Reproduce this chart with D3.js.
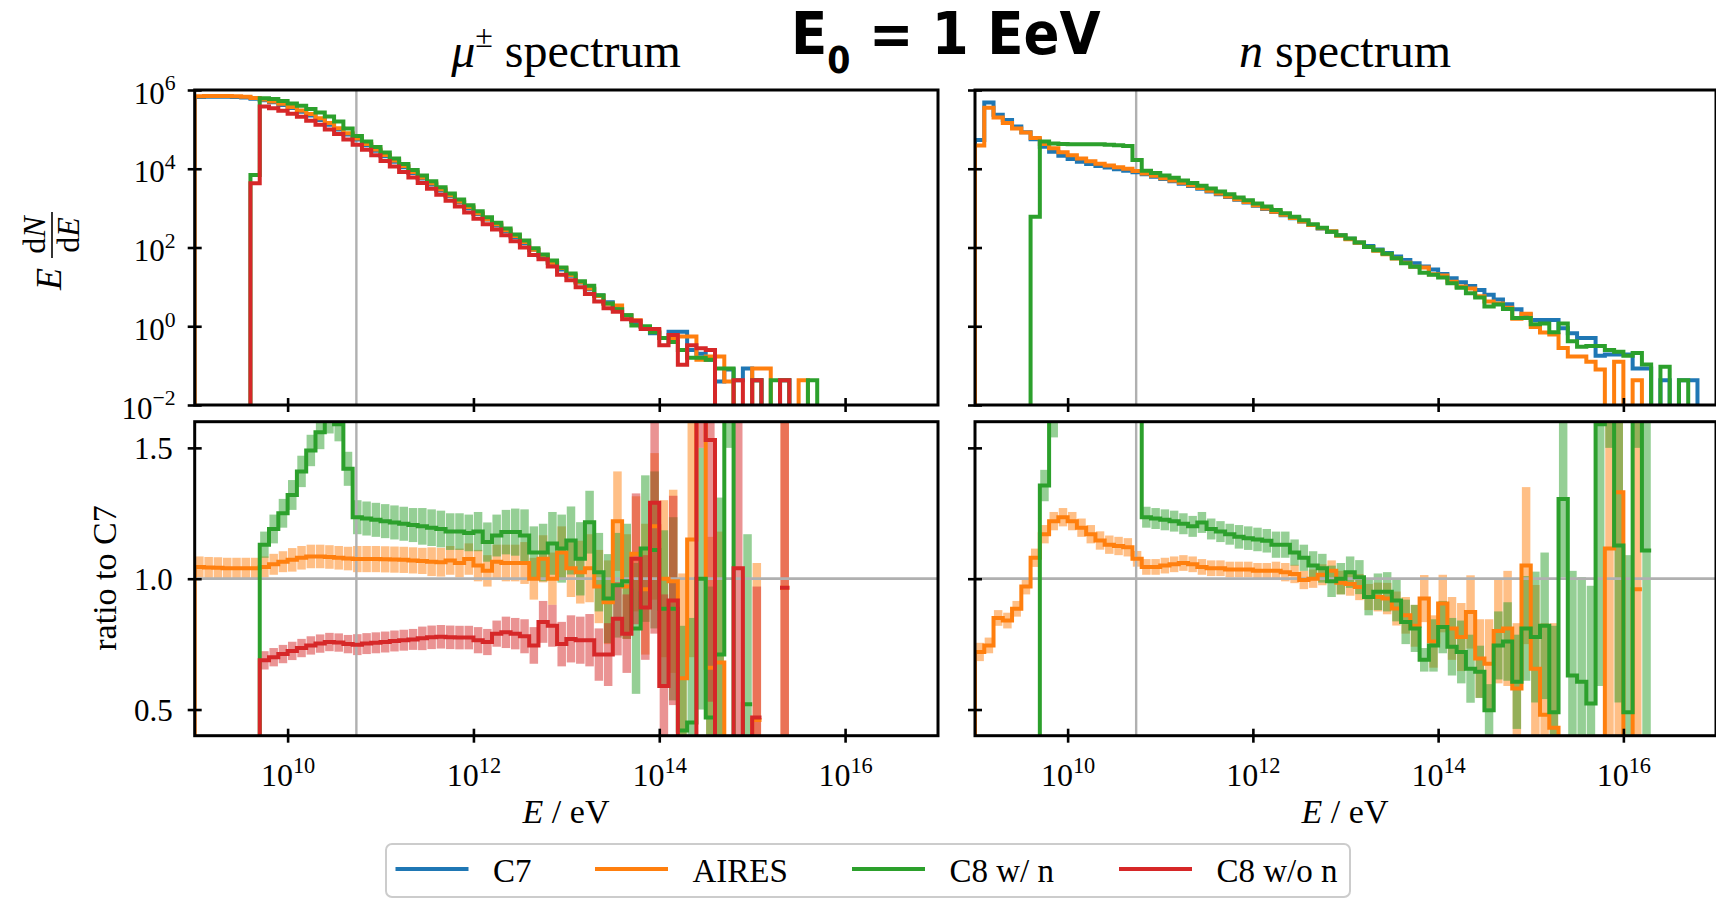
<!DOCTYPE html>
<html>
<head>
<meta charset="utf-8">
<script src="https://cdn.jsdelivr.net/npm/d3@7"></script>
<style>
  body { margin: 0; background: #fff; }
  svg text { font-family: "Liberation Serif", "Times New Roman", serif; fill: #000; }
</style>
</head>
<body>
<svg id="chart" width="1716" height="898"></svg>
<script>
// bin k covers 10^(9+0.1k) .. 10^(9.1+0.1k); values are log10(E dN/dE), null = empty bin
const muC7 = [5.82,5.83,5.83,5.83,5.82,5.81,5.78,
  5.74,5.69,5.62,5.54,5.45,5.35,5.24,5.12,5.00,4.87,
  4.74,4.60,4.46,4.32,4.18,4.04,
  3.89,3.75,3.60,3.45,3.30,3.15,3.00,2.85,2.71,2.56,2.41,2.26,2.11,
  1.94,1.78,1.61,1.44,1.28,1.11,0.94,0.78,0.61,0.44,0.28,0.11,
  -0.02,-0.18,-0.30,-0.14,-0.14,-0.60,-0.70,-0.85,-1.40,-1.10,-1.37,-1.07,-1.37,null,null,-1.37];
const muAIRES = [5.84,5.85,5.85,5.85,5.84,5.83,5.80,
  5.76,5.71,5.65,5.57,5.48,5.39,5.28,5.16,5.03,4.90,
  4.77,4.63,4.49,4.35,4.21,4.07,3.92,3.78,3.63,3.48,3.33,3.17,3.03,2.87,
  2.72,2.59,2.44,2.29,2.14,1.94,1.81,1.61,1.48,1.30,
  1.12,0.96,0.77,0.57,0.53,0.27,0.15,
  -0.02,-0.10,-0.30,-0.30,-0.26,-0.26,-0.85,-0.77,-0.77,-1.40,null,null,-1.07,-1.07,null,null,null,-1.37];
const muC8n = [null,null,null,null,null,null,3.84,
  5.79,5.77,5.72,5.66,5.60,5.52,5.43,5.33,5.20,5.02,
  4.83,4.69,4.55,4.41,4.26,4.12,3.97,3.83,3.68,3.53,3.37,3.22,3.07,2.92,
  2.77,2.63,2.48,2.33,2.18,1.98,1.82,1.67,1.49,1.34,
  1.14,1.03,0.79,0.58,0.43,0.28,0.02,
  0.00,-0.15,-0.30,-0.40,-0.60,-0.80,-0.80,-0.85,-1.07,-1.07,null,null,-1.37,null,-1.37,-1.37,null,null,-1.37];
const muC8wo = [null,null,null,null,null,null,3.63,
  5.58,5.535,5.47,5.40,5.32,5.22,5.12,5.00,4.88,4.745,
  4.61,4.48,4.34,4.20,4.06,3.92,3.78,3.64,3.49,3.34,3.19,3.04,2.89,2.73,
  2.59,2.46,2.31,2.16,2.00,1.81,1.70,1.52,1.31,1.17,
  0.99,0.82,0.63,0.46,0.37,0.18,0.14,
  -0.07,-0.07,-0.48,-0.22,-0.98,-0.48,-0.56,-0.60,null,null,-1.37,null,-1.37,null,null,-1.37];

// ratio to C7, mu panel, with half-width of the uncertainty band
const muRatioAIRES = [1.045,1.043,1.042,1.04,1.04,1.04,1.04,
  1.045,1.055,1.065,1.072,1.08,1.085,1.085,1.083,1.08,1.077,
  1.075,1.075,1.075,1.074,1.073,1.072,1.07,1.068,1.065,1.063,1.07,1.06,1.075,1.05,
  1.03,1.065,1.06,1.06,1.06,1.0,1.076,1.0,1.10,1.04,
  1.025,1.04,0.97,0.91,1.22,0.97,1.095,0.96,1.2,1.0,
  0.99,0.62,1.15,2.5,0.66,0.68,0,0,0,0.46,null,null,0.965];
const muErrAIRES = [0.04,0.04,0.04,0.04,0.04,0.04,0.04,
  0.04,0.04,0.04,0.045,0.045,0.045,0.045,0.045,0.045,0.045,
  0.05,0.05,0.05,0.05,0.05,0.05,0.05,0.05,0.055,0.055,0.055,0.055,0.06,0.06,
  0.06,0.065,0.07,0.07,0.08,0.08,0.09,0.1,0.1,0.11,
  0.12,0.13,0.14,0.16,0.19,0.2,0.22,0.25,0.28,0.3,
  0.35,0.4,0.45,0.6,0.5,0.5,0,0,0,0.6,null,null,1.5];
const muRatioC8n = [null,null,null,null,null,null,0.01,
  1.13,1.19,1.25,1.32,1.41,1.49,1.56,1.62,1.59,1.42,
  1.235,1.23,1.225,1.22,1.215,1.21,1.205,1.20,1.195,1.19,1.18,1.18,1.175,1.18,
  1.14,1.165,1.178,1.178,1.165,1.10,1.10,1.135,1.115,1.146,
  1.076,1.216,1.025,0.924,0.975,0.99,0.81,1.115,1.11,0.885,
  0.885,0.42,0.45,1.0,0.47,0.71,2.5,0,0.52];
const muErrC8n = [null,null,null,null,null,null,0,
  0.05,0.055,0.055,0.057,0.06,0.06,0.065,0.065,0.065,0.065,
  0.065,0.065,0.065,0.065,0.065,0.065,0.065,0.07,0.07,0.07,0.07,0.07,0.07,0.075,
  0.075,0.08,0.085,0.09,0.1,0.1,0.11,0.12,0.13,0.13,
  0.14,0.12,0.15,0.17,0.2,0.22,0.25,0.28,0.3,0.3,
  0.35,0.4,0.4,0.5,0.5,0.6,1.0,0,0.65];
const muRatioC8wo = [null,null,null,null,null,null,0.007,
  0.688,0.70,0.712,0.724,0.735,0.745,0.752,0.758,0.756,0.75,
  0.748,0.752,0.755,0.758,0.762,0.765,0.768,0.772,0.776,0.778,0.776,0.775,0.775,0.765,
  0.758,0.79,0.795,0.79,0.78,0.745,0.835,0.82,0.75,0.77,
  0.765,0.765,0.71,0.71,0.847,0.79,1.076,0.89,1.29,0.59,
  0.917,0,0,2.5,1.53,0,0,1.04,0,0.47,null,null,0.965];
const muErrC8wo = [null,null,null,null,null,null,0,
  0.035,0.035,0.035,0.035,0.035,0.035,0.035,0.035,0.035,0.035,
  0.04,0.04,0.04,0.04,0.04,0.04,0.04,0.045,0.045,0.045,0.045,0.045,0.045,0.05,
  0.05,0.05,0.06,0.06,0.065,0.07,0.08,0.08,0.085,0.09,
  0.09,0.1,0.1,0.12,0.14,0.15,0.25,0.2,0.5,0.35,
  0.4,0,0,1.0,1.0,0,0,1.0,0,0.5,null,null,1.5];

// neutron spectrum, log10(E dN/dE)
const nC7 = [4.73,5.68,5.37,5.24,5.07,4.93,4.75,4.56,4.43,4.33,4.25,4.18,4.12,4.07,4.03,3.99,3.95,
  3.91,3.86,3.80,3.74,3.68,3.62,3.56,3.49,3.42,3.35,3.28,3.21,3.14,3.06,2.98,2.90,2.82,2.74,2.66,2.57,2.48,2.40,2.31,2.22,
  2.13,2.04,1.95,1.86,1.77,1.68,1.60,1.52,1.44,1.33,1.22,1.12,1.02,0.92,0.80,0.68,0.56,0.43,0.30,0.16,0.16,0.16,
  -0.05,-0.18,-0.30,-0.30,-0.75,-0.72,-0.72,-0.72,-1.07,-1.07,null,-1.37,null,-1.37,-1.37];
const nAIRES = [4.59,5.55,5.30,5.16,5.02,4.92,4.78,4.63,4.52,4.42,4.34,4.26,4.19,4.13,4.08,4.04,4.00,
  3.94,3.88,3.82,3.76,3.70,3.645,3.58,3.51,3.44,3.37,3.295,3.225,3.155,3.07,2.99,2.91,2.83,2.75,2.66,2.57,2.49,2.41,2.30,2.21,
  2.12,2.01,1.92,1.83,1.72,1.61,1.51,1.49,1.32,1.29,1.13,1.01,0.96,0.76,0.63,0.58,0.47,0.19,0.32,-0.02,-0.16,-0.21,
  -0.55,-0.77,-0.77,-0.90,-1.10,null,-0.90,null,-1.37];
const nC8n = [null,null,null,null,null,null,2.78,
  4.69,4.64,4.63,4.62,4.62,4.62,4.62,4.61,4.60,4.58,4.22,
  3.95,3.89,3.83,3.77,3.70,3.64,3.57,3.50,3.42,3.35,3.27,3.20,3.12,3.04,2.95,2.87,2.78,2.69,2.59,2.50,2.40,2.31,2.23,
  2.13,2.01,1.93,1.84,1.73,1.60,1.51,1.36,1.31,1.24,1.09,0.98,0.84,0.73,0.50,0.55,0.44,0.21,0.21,0.05,0.07,-0.15,0.07,-0.38,-0.52,
  -0.50,-0.50,-0.60,-0.65,-0.75,-0.68,-0.97,null,-1.03,null,-1.37];

// ratio to C7, neutron panel
const nRatioAIRES = [0.72,0.745,0.85,0.84,0.885,0.97,1.08,1.17,1.22,1.235,1.22,1.195,1.17,1.146,1.13,1.125,1.12,
  1.076,1.045,1.045,1.05,1.055,1.06,1.055,1.045,1.04,1.04,1.035,1.035,1.035,1.03,
  1.03,1.03,1.025,1.018,0.995,1.0,1.015,1.03,0.985,0.98,0.968,
  0.93,0.93,0.924,0.886,0.86,0.82,0.924,0.76,0.905,0.81,0.777,0.873,0.695,0.675,0.80,0.81,0.58,1.05,0.656,0.48,0.43,
  0,0,0,0,0,1.115,1.33,0,0.96];
const nErrAIRES = [0.035,0.03,0.03,0.03,0.03,0.03,0.035,0.035,0.035,0.035,0.035,0.035,0.035,0.035,0.035,0.035,0.035,
  0.03,0.03,0.03,0.03,0.03,0.03,0.03,0.03,0.03,0.03,0.03,0.03,0.03,0.03,
  0.03,0.035,0.035,0.035,0.035,0.035,0.04,0.04,0.045,0.045,0.05,
  0.05,0.055,0.06,0.065,0.07,0.08,0.09,0.1,0.11,0.12,0.13,0.14,0.15,0.17,0.2,0.22,0.25,0.3,0.32,0.35,0.4,
  0,0,0,0,0,0.8,1.0,0,1.0];
const nRatioC8n = [null,null,null,null,null,null,0.012,1.356,1.62,2.0,2.2,2.4,2.6,2.8,3.0,3.2,3.5,2.0,
  1.235,1.23,1.225,1.22,1.21,1.20,1.215,1.19,1.18,1.17,1.16,1.155,1.15,
  1.145,1.13,1.13,1.10,1.08,1.05,1.04,0.99,1.0,1.025,1.006,
  0.93,0.95,0.95,0.917,0.835,0.81,0.69,0.745,0.815,0.74,0.72,0.656,0.644,0.497,0.745,0.76,0.606,0.81,0.777,0.82,0.49,1.305,0.63,0.606,0.523,1.59,2.5,1.127,0.49,2.5,1.108];
const nErrC8n = [null,null,null,null,null,null,0,0.06,0.08,0.1,0.1,0.1,0.1,0.1,0.1,0.1,0.1,0.1,
  0.04,0.04,0.04,0.04,0.04,0.04,0.04,0.04,0.04,0.04,0.045,0.045,0.045,
  0.045,0.05,0.05,0.05,0.05,0.055,0.055,0.06,0.06,0.06,0.065,
  0.07,0.07,0.075,0.08,0.085,0.09,0.045,0.1,0.1,0.11,0.12,0.13,0.1,0.1,0.13,0.15,0.18,0.2,0.25,0.28,0.33,0.3,0.4,0.4,0.45,1.0,1.0,0.6,0.6,1.0,0.8];

const seriesNames = ["C7", "AIRES", "C8 w/ n", "C8 w/o n"];
const colors = ["#1f77b4", "#ff7f0e", "#2ca02c", "#d62728"];
const xTickValues = [1e10, 1e12, 1e14, 1e16];
const specTickValues = [1e-2, 1, 1e2, 1e4, 1e6];
const ratioTickValues = [0.5, 1.0, 1.5];
const markerE = Math.pow(10, 10.74);

const svg = d3.select("#chart");
const edge = k => Math.pow(10, 9 + 0.1 * k);
const LW = 4;

// panel geometry
const cols = [{ x0: 194.7, x1: 938 }, { x0: 975, x1: 1716 }];
const topRow = { y0: 90, y1: 405 }, botRow = { y0: 421.7, y1: 735.7 };

const xL = d3.scaleLog().domain([1e9, 1e17]).range([cols[0].x0, cols[0].x1]);
const xR = d3.scaleLog().domain([1e9, 1e17]).range([cols[1].x0, cols[1].x1]);
const ySpec = d3.scaleLog().domain([1e-2, 1e6]).range([topRow.y1, topRow.y0]);
const yRatio = d3.scaleLinear().domain([0.4, 1.6]).range([botRow.y1, botRow.y0]);

const defs = svg.append("defs");
function clipFor(id, c, r) {
  defs.append("clipPath").attr("id", id).append("rect")
    .attr("x", c.x0).attr("y", r.y0).attr("width", c.x1 - c.x0).attr("height", r.y1 - r.y0);
  return svg.append("g").attr("clip-path", `url(#${id})`);
}

function drawSpectrum(g, x, vals, color) {
  const below = ySpec.range()[0] + 40;
  const pts = [[x(edge(0)), below]];
  vals.forEach((v, k) => {
    const py = v === null ? below : ySpec(Math.pow(10, v));
    pts.push([x(edge(k)), py], [x(edge(k + 1)), py]);
  });
  pts.push([x(edge(vals.length)), below]);
  g.append("path").attr("d", d3.line()(pts))
    .attr("fill", "none").attr("stroke", color).attr("stroke-width", LW);
}

function drawBands(g, x, vals, errs, color) {
  const rows = vals.map((v, k) => ({ v, e: errs[k], k })).filter(d => d.v !== null && d.e);
  g.selectAll(null).data(rows).join("rect")
    .attr("x", d => x(edge(d.k)) + 0.4)
    .attr("width", d => x(edge(d.k + 1)) - x(edge(d.k)) - 0.8)
    .attr("y", d => yRatio(d.v + d.e))
    .attr("height", d => yRatio(d.v - d.e) - yRatio(d.v + d.e))
    .attr("fill", color).attr("fill-opacity", 0.5);
}

function drawRatio(g, x, vals, color) {
  const pts = [];
  let started = false;
  vals.forEach((v, k) => {
    if (v === null) { pts.push(null); return; }
    if (!started) { pts.push([x(edge(k)), yRatio(0)]); started = true; }
    pts.push([x(edge(k)), yRatio(v)], [x(edge(k + 1)), yRatio(v)]);
  });
  g.append("path").attr("d", d3.line().defined(d => d !== null)(pts))
    .attr("fill", "none").attr("stroke", color).attr("stroke-width", LW);
}

function grayLines(g, x, row, withOne) {
  g.append("line").attr("x1", x(markerE)).attr("x2", x(markerE))
    .attr("y1", row.y0).attr("y2", row.y1).attr("stroke", "#b0b0b0").attr("stroke-width", 2.4);
  if (withOne) {
    g.append("line").attr("x1", x.range()[0]).attr("x2", x.range()[1])
      .attr("y1", yRatio(1)).attr("y2", yRatio(1)).attr("stroke", "#b0b0b0").attr("stroke-width", 2.8);
  }
}

function supLabel(sel, base, exp, size) {
  sel.append("tspan").text(base);
  sel.append("tspan").attr("dy", -size * 0.42).attr("font-size", size * 0.7).text(exp);
}

// ---- top panels: spectra
const gTL = clipFor("cTL", cols[0], topRow);
grayLines(gTL, xL, topRow, false);
[muC7, muAIRES, muC8n, muC8wo].forEach((s, i) => drawSpectrum(gTL, xL, s, colors[i]));

const gTR = clipFor("cTR", cols[1], topRow);
grayLines(gTR, xR, topRow, false);
[nC7, nAIRES, nC8n].forEach((s, i) => drawSpectrum(gTR, xR, s, colors[i]));

// ---- bottom panels: ratios
const gBL = clipFor("cBL", cols[0], botRow);
drawBands(gBL, xL, muRatioAIRES, muErrAIRES, colors[1]);
drawBands(gBL, xL, muRatioC8n, muErrC8n, colors[2]);
drawBands(gBL, xL, muRatioC8wo, muErrC8wo, colors[3]);
grayLines(gBL, xL, botRow, true);
drawRatio(gBL, xL, muRatioAIRES, colors[1]);
drawRatio(gBL, xL, muRatioC8n, colors[2]);
drawRatio(gBL, xL, muRatioC8wo, colors[3]);

const gBR = clipFor("cBR", cols[1], botRow);
drawBands(gBR, xR, nRatioAIRES, nErrAIRES, colors[1]);
drawBands(gBR, xR, nRatioC8n, nErrC8n, colors[2]);
grayLines(gBR, xR, botRow, true);
drawRatio(gBR, xR, nRatioAIRES, colors[1]);
drawRatio(gBR, xR, nRatioC8n, colors[2]);

// ---- axes: ticks cross the spine (in and out)
function inoutTicks(g, vertical) {
  g.select(".domain").remove();
  g.selectAll(".tick text").remove();
  const ln = g.selectAll(".tick line").attr("stroke", "#000").attr("stroke-width", 2.6);
  if (vertical) ln.attr("x1", -7).attr("x2", 7); else ln.attr("y1", -7).attr("y2", 7);
}

[[xL, cols[0]], [xR, cols[1]]].forEach(([x, c], ci) => {
  [topRow, botRow].forEach((row, ri) => {
    const g = svg.append("g").attr("transform", `translate(0,${row.y1})`)
      .call(d3.axisBottom(x).tickValues(xTickValues).tickSize(7));
    inoutTicks(g, false);
    if (ri === 1) {
      g.selectAll(".tick").append("text")
        .attr("y", 786 - row.y1).attr("text-anchor", "middle").attr("font-size", 32)
        .each(function (d) { supLabel(d3.select(this), "10", Math.round(Math.log10(d)), 32); });
    }
  });

  const gs = svg.append("g").attr("transform", `translate(${c.x0},0)`)
    .call(d3.axisLeft(ySpec).tickValues(specTickValues).tickSize(7));
  inoutTicks(gs, true);
  const gr = svg.append("g").attr("transform", `translate(${c.x0},0)`)
    .call(d3.axisLeft(yRatio).tickValues(ratioTickValues).tickSize(7));
  inoutTicks(gr, true);
  if (ci === 0) {
    gs.selectAll(".tick").append("text")
      .attr("x", -19).attr("y", 13).attr("text-anchor", "end").attr("font-size", 31)
      .each(function (d) {
        const e = Math.round(Math.log10(d));
        supLabel(d3.select(this), "10", e < 0 ? "\u2212" + (-e) : e, 31);
      });
    gr.selectAll(".tick").append("text")
      .attr("x", -22).attr("y", 11).attr("text-anchor", "end").attr("font-size", 31)
      .text(d3.format(".1f"));
  }
});

// spines
cols.forEach(c => [topRow, botRow].forEach(r => {
  svg.append("rect").attr("x", c.x0).attr("y", r.y0)
    .attr("width", c.x1 - c.x0).attr("height", r.y1 - r.y0)
    .attr("fill", "none").attr("stroke", "#000").attr("stroke-width", 3);
}));

// ---- texts
const tMu = svg.append("text").attr("x", 566).attr("y", 67).attr("text-anchor", "middle").attr("font-size", 48);
tMu.append("tspan").attr("font-style", "italic").text("\u03bc");
tMu.append("tspan").attr("dy", -20).attr("font-size", 32).text("\u00b1");
tMu.append("tspan").attr("dy", 20).text(" spectrum");

const tN = svg.append("text").attr("x", 1345).attr("y", 67).attr("text-anchor", "middle").attr("font-size", 48);
tN.append("tspan").attr("font-style", "italic").text("n");
tN.append("tspan").text(" spectrum");

const title = svg.append("text").attr("x", 791).attr("y", 54)
  .style("font-family", "'DejaVu Sans Condensed', 'DejaVu Sans', sans-serif")
  .style("font-stretch", "condensed").attr("font-weight", "bold").attr("font-size", 59);
title.append("tspan").text("E");
title.append("tspan").attr("dy", 19).attr("font-size", 37).text("0");
title.append("tspan").attr("dy", -19).text(" = 1 EeV");

[566, 1345].forEach(cx => {
  const t = svg.append("text").attr("x", cx).attr("y", 823).attr("text-anchor", "middle").attr("font-size", 34);
  t.append("tspan").attr("font-style", "italic").text("E");
  t.append("tspan").text(" / eV");
});

svg.append("text").attr("transform", "translate(116,578) rotate(-90)")
  .attr("text-anchor", "middle").attr("font-size", 34).text("ratio to C7");

// E dN/dE, rotated
const yl = svg.append("g").attr("transform", "translate(49,248) rotate(-90)");
yl.append("text").attr("x", -31).attr("y", 12).attr("text-anchor", "middle")
  .attr("font-size", 36).attr("font-style", "italic").text("E");
const num = yl.append("text").attr("x", 13).attr("y", -4).attr("text-anchor", "middle").attr("font-size", 32);
num.append("tspan").text("d");
num.append("tspan").attr("font-style", "italic").text("N");
const den = yl.append("text").attr("x", 13).attr("y", 30).attr("text-anchor", "middle").attr("font-size", 32);
den.append("tspan").text("d");
den.append("tspan").attr("font-style", "italic").text("E");
yl.append("line").attr("x1", -10).attr("x2", 36).attr("y1", 3).attr("y2", 3)
  .attr("stroke", "#000").attr("stroke-width", 1.6);

// ---- legend
const legendX = [395.5, 595, 852, 1119];
svg.append("rect").attr("x", 386).attr("y", 844).attr("width", 964).attr("height", 53)
  .attr("rx", 6).attr("fill", "#fff").attr("stroke", "#cccccc").attr("stroke-width", 2);
seriesNames.forEach((name, i) => {
  svg.append("line").attr("x1", legendX[i]).attr("x2", legendX[i] + 73)
    .attr("y1", 869).attr("y2", 869).attr("stroke", colors[i]).attr("stroke-width", 4);
  svg.append("text").attr("x", legendX[i] + 97.5).attr("y", 882).attr("font-size", 33).text(name);
});
</script>
</body>
</html>
